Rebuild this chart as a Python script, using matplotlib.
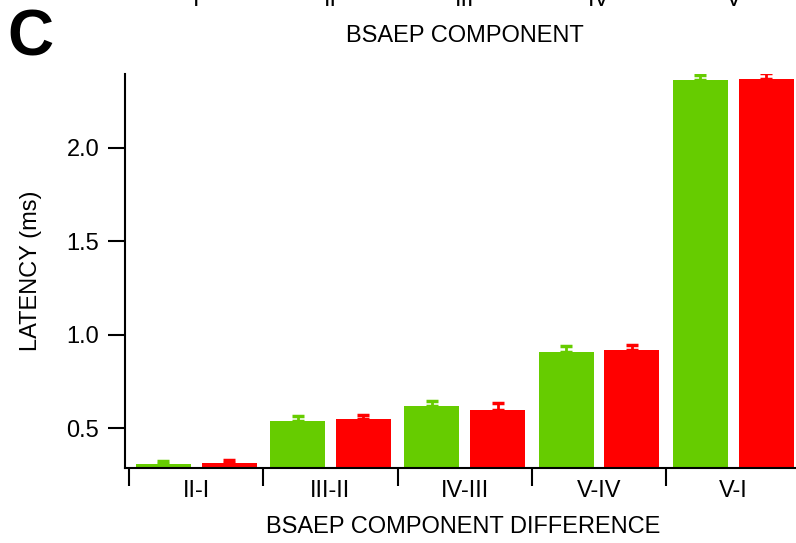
"""
BSAEP interpeak latency bar chart (panel C).

Grouped bars (two groups per component difference) with one-sided
SEM error bars, Arial-style labelling.

Output
------
    out.png
"""

import matplotlib.pyplot as plt
import matplotlib.transforms as mtransforms
import numpy as np

plt.rcParams["font.family"] = ["Liberation Sans", "DejaVu Sans"]

# Interpeak latency differences (ms)
differences = ["II-I", "III-II", "IV-III", "V-IV", "V-I"]
green_mean = [0.307, 0.537, 0.618, 0.907, 2.364]
green_sem = [0.016, 0.027, 0.027, 0.034, 0.025]
red_mean = [0.314, 0.548, 0.596, 0.918, 2.370]
red_sem = [0.014, 0.020, 0.036, 0.028, 0.030]

# Tick labels of the panel above (only the bottom of it shows)
components = ["I", "II", "III", "IV", "V"]

GREEN = "#66CC00"
RED = "#FF0000"
FS = 17

fig = plt.figure(figsize=(7.96, 5.43), dpi=100)
ax = fig.add_axes([0.157, 0.139, 0.8486, 0.7247])

x = np.arange(len(differences))
width = 0.41
offset = 0.245

for xs, mean, sem, color in [
    (x - offset, green_mean, green_sem, GREEN),
    (x + offset, red_mean, red_sem, RED),
]:
    ax.bar(xs, mean, width, color=color, zorder=2)
    ax.errorbar(
        xs, mean, yerr=[np.zeros(len(sem)), sem], fmt="none",
        ecolor=color, elinewidth=2, capsize=4, capthick=2.5, zorder=1,
    )

ax.set_xlim(-0.53, 4.5)
ax.set_ylim(0.2884, 2.396)

# Boundary ticks between groups, labels at group centres
ax.set_xticks(np.arange(-0.5, len(differences), 1.0))
ax.set_xticklabels([])
ax.set_xticks(x, minor=True)
ax.set_xticklabels(differences, minor=True, fontsize=FS)
ax.tick_params(axis="x", which="major", length=13, width=1.5, direction="out")
ax.tick_params(axis="x", which="minor", length=0, pad=9)

ax.set_yticks([0.5, 1.0, 1.5, 2.0])
ax.set_yticklabels(["0.5", "1.0", "1.5", "2.0"], fontsize=FS)
ax.tick_params(axis="y", length=12.5, width=1.5, pad=6)

for side in ["top", "right"]:
    ax.spines[side].set_visible(False)
for side in ["left", "bottom"]:
    ax.spines[side].set_linewidth(1.5)

ax.set_xlabel("BSAEP COMPONENT DIFFERENCE", fontsize=FS, labelpad=10)
ax.set_ylabel("LATENCY (ms)", fontsize=FS, labelpad=18)

# Remnant of the panel above: its tick labels and axis title
trans = mtransforms.blended_transform_factory(ax.transData, fig.transFigure)
for xi, lab in zip(x, components):
    ax.text(xi, 0.989, lab, transform=trans, ha="center", va="baseline",
            fontsize=FS, clip_on=False)
ax.text(2, 0.9227, "BSAEP COMPONENT", transform=trans, ha="center",
        va="baseline", fontsize=FS, clip_on=False)

# Panel letter
fig.text(0.009, 0.897, "C", fontsize=46, fontweight="bold", ha="left",
         va="baseline")

fig.savefig("out.png", dpi=100)
